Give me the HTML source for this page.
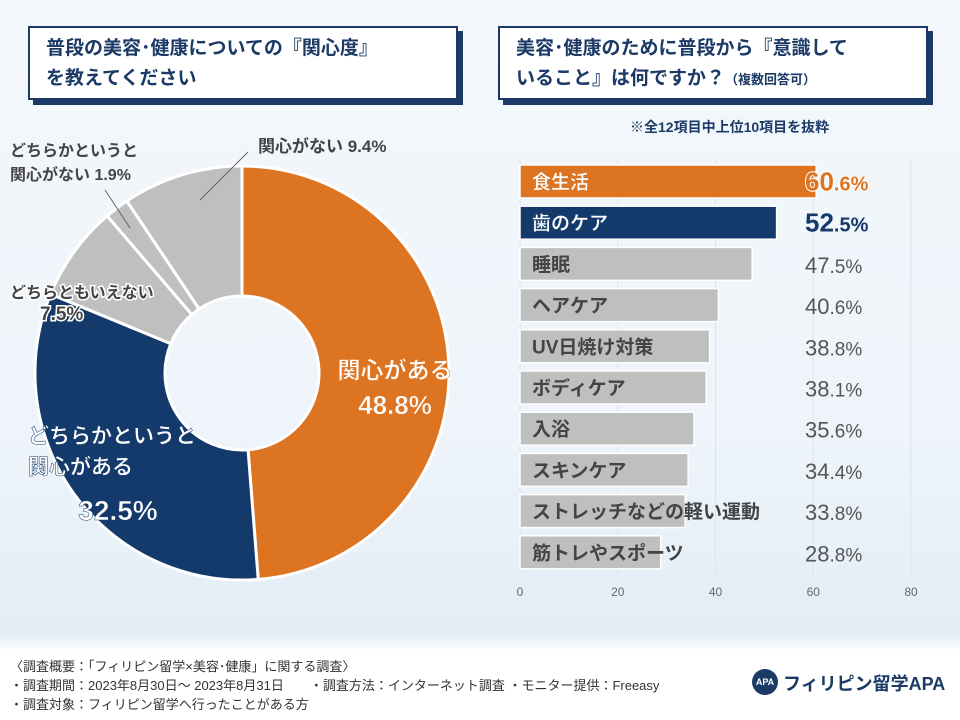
<!DOCTYPE html>
<html><head><meta charset="utf-8">
<style>
body{margin:0;width:960px;height:720px;overflow:hidden;font-family:"Liberation Sans","Noto Sans CJK JP",sans-serif;}
#bg{position:absolute;left:0;top:0;width:960px;height:720px;background:linear-gradient(180deg,#f4f8fc 0%,#eef4fa 60%,#e3edf6 88%,#fff 90.5%);}
.tbox{position:absolute;background:#fff;border:2px solid #1b3a66;box-shadow:5px 5px 0 #1b3a66;color:#1b3a66;font-weight:bold;font-size:19px;line-height:30px;padding:6px 16px;box-sizing:border-box;}
.foot{position:absolute;left:10px;font-size:13px;color:#333;}
</style></head><body>
<div id="bg"></div>
<div class="tbox" style="left:28px;top:26px;width:430px;height:74px">普段の美容･健康についての『関心度』<br>を教えてください</div>
<div class="tbox" style="left:498px;top:26px;width:430px;height:74px">美容･健康のために普段から『意識して<br>いること』は何ですか？<span style="font-size:13px">（複数回答可）</span></div>
<div style="position:absolute;left:630px;top:117px;font-size:14px;font-weight:bold;color:#1b3a66">※全12項目中上位10項目を抜粋</div>
<svg id="pie" width="960" height="720" style="position:absolute;left:0;top:0"></svg>
<svg id="bar" width="960" height="720" style="position:absolute;left:0;top:0"></svg>
<div class="foot" style="top:656px">〈調査概要：「フィリピン留学×美容･健康」に関する調査〉</div>
<div class="foot" style="top:675px">・調査期間：2023年8月30日～ 2023年8月31日　　・調査方法：インターネット調査 ・モニター提供：Freeasy</div>
<div class="foot" style="top:694px">・調査対象：フィリピン留学へ行ったことがある方</div>
<div style="position:absolute;left:752px;top:669px;width:26px;height:26px;border-radius:50%;background:#1b3a66;color:#fff;font-size:9px;font-weight:bold;text-align:center;line-height:26px">APA</div>
<div style="position:absolute;left:783px;top:670px;font-size:18px;font-weight:bold;color:#1b3a66">フィリピン留学APA</div>
<script>
const pieLabels=["関心がある","どちらかというと関心がある","どちらともいえない","どちらかというと関心がない","関心がない"];
const pieValues=[48.8,32.5,7.5,1.9,9.4];
const pieColors=["#dd7422","#133a6b","#bfbfbf","#bfbfbf","#bfbfbf"];
const barLabels=["食生活","歯のケア","睡眠","ヘアケア","UV日焼け対策","ボディケア","入浴","スキンケア","ストレッチなどの軽い運動","筋トレやスポーツ"];
const barValues=[60.6,52.5,47.5,40.6,38.8,38.1,35.6,34.4,33.8,28.8];
const tickVals=[0,20,40,60,80];
const NS="http://www.w3.org/2000/svg";
function mk(p,t,a){const e=document.createElementNS(NS,t);for(const k in a)e.setAttribute(k,a[k]);p.appendChild(e);return e;}
const pie=document.getElementById('pie');
const cx=242,cy=373,R=207,r=77;
const tot=pieValues.reduce((a,b)=>a+b,0);
let ang=0;
function pt(a,rad){return [cx+rad*Math.sin(a),cy-rad*Math.cos(a)];}
pieValues.forEach((v,i)=>{
 const a0=ang/tot*2*Math.PI,a1=(ang+v)/tot*2*Math.PI;ang+=v;
 const L=(a1-a0)>Math.PI?1:0;
 const [x0,y0]=pt(a0,R),[x1,y1]=pt(a1,R),[x2,y2]=pt(a1,r),[x3,y3]=pt(a0,r);
 const p=mk(pie,'path',{d:`M${x0},${y0}A${R},${R} 0 ${L} 1 ${x1},${y1}L${x2},${y2}A${r},${r} 0 ${L} 0 ${x3},${y3}Z`,fill:pieColors[i],stroke:'#fff','stroke-width':3});
 
 
});
function txt(p,x,y,s,size,fill,anchor,extra){const t=mk(p,'text',Object.assign({x:x,y:y,'font-size':size,fill:fill,'text-anchor':anchor||'start','font-weight':'bold'},extra||{}));t.textContent=s;return t;}
const pct=v=>v.toFixed(1)+'%';
let t;
t=txt(pie,395,378,pieLabels[0],23,'#fff','middle',{stroke:'#dd7422','stroke-width':0.5});
t=txt(pie,395,414,pct(pieValues[0]),26,'#fff','middle',{stroke:'#dd7422','stroke-width':0.5});
t=txt(pie,28,443,'どちらかというと',21,'#fff','start',{stroke:'#133a6b','stroke-width':0.5});
t=txt(pie,28,474,'関心がある',21,'#fff','start',{stroke:'#133a6b','stroke-width':0.5});
t=txt(pie,118,520,pct(pieValues[1]),28,'#fff','middle',{stroke:'#133a6b','stroke-width':0.5});
t=txt(pie,10,298,pieLabels[2],16,'#444','start',{stroke:'#fff','stroke-width':3,'paint-order':'stroke'});
t=txt(pie,40,320,pct(pieValues[2]),19,'#444','start',{stroke:'#fff','stroke-width':3,'paint-order':'stroke'});
t=txt(pie,10,156,'どちらかというと',16,'#444');
t=txt(pie,10,180,'関心がない '+pct(pieValues[3]),16,'#444');
t=txt(pie,258,152,pieLabels[4]+' '+pct(pieValues[4]),17,'#444');
let l=mk(pie,'line',{x1:130,y1:228,x2:105,y2:190,stroke:'#666','stroke-width':1});
l=mk(pie,'line',{x1:200,y1:200,x2:248,y2:152,stroke:'#666','stroke-width':1});
const bar=document.getElementById('bar');
const x0=520,xs=(911-520)/80,y0=165,step=41.2,bh=33;
const X=v=>x0+v*xs;
tickVals.forEach(v=>{
 const g=mk(bar,'line',{x1:X(v),y1:160,x2:X(v),y2:575,stroke:'#dde3ea','stroke-width':1});
 
 const tt=txt(bar,X(v),596,String(v),12,'#666','middle',{'font-weight':'normal'});
 
});
barValues.forEach((v,i)=>{
 const y=y0+i*step;
 const fill=i==0?'#dd7422':i==1?'#133a6b':'#bfbfbf';
 const rc=mk(bar,'rect',{x:X(0),y:y,width:X(v)-X(0),height:bh,fill:fill,stroke:'#fff','stroke-width':1.5});
 
});
barValues.forEach((v,i)=>{
 const y=y0+i*step;
 const fill=i==0?'#dd7422':i==1?'#133a6b':'#bfbfbf';
 const lc=i<2?'#fff':'#444';
 const lb=txt(bar,532,y+bh/2+7,barLabels[i],19,lc,'start',i<2?{stroke:fill,'stroke-width':0.4}:{});
 
 const vc=i==0?'#dd7422':i==1?'#133a6b':'#555';
 const vt=txt(bar,805,y+bh/2+9,'',i<2?26:22,vc,'start',{'font-weight':i<2?'bold':'normal',stroke:'#fff','stroke-width':i==0?2:0,'paint-order':'stroke'});
 const parts=v.toFixed(1).split('.');
 const s1=document.createElementNS(NS,'tspan');s1.textContent=parts[0];vt.appendChild(s1);
 const s2=document.createElementNS(NS,'tspan');s2.setAttribute('font-size',i<2?20:19);s2.textContent='.'+parts[1]+'%';vt.appendChild(s2);
 
});
</script>
</body></html>
